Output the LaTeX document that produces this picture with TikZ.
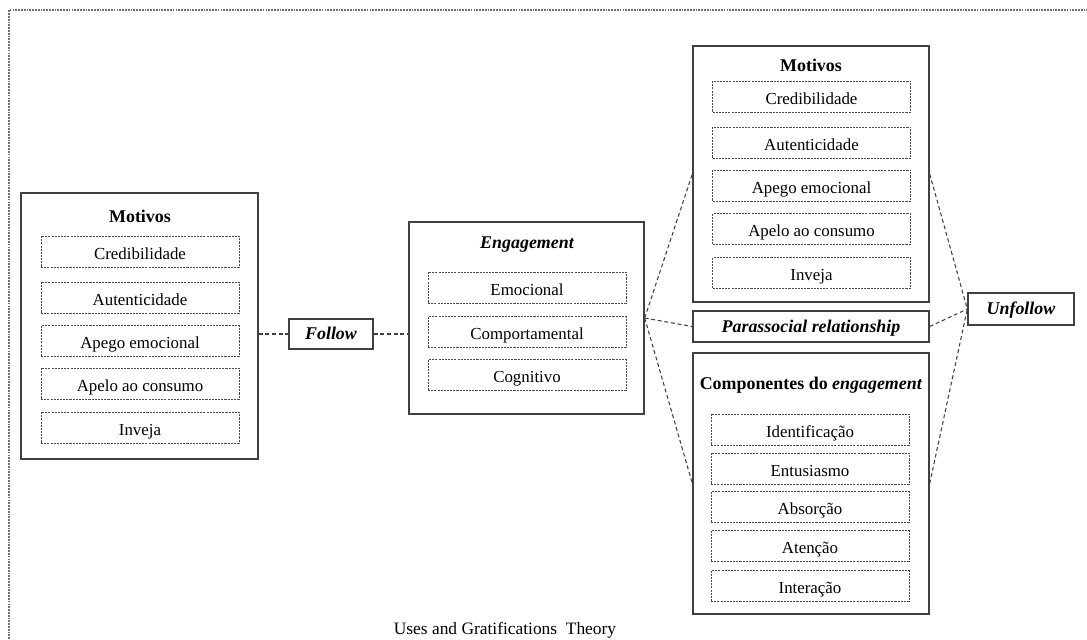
\documentclass[tikz,border=0pt]{standalone}
\usepackage{fontspec}
\setmainfont{Liberation Serif}
\usetikzlibrary{positioning}

\tikzset{
  caixa/.style={draw=black!75, line width=0.8pt, inner sep=0pt, minimum width=4.72cm,
    text height=8.6pt, text depth=1.8pt},
  item/.style={draw=black!70, line width=0.45pt, dash pattern=on 1.2pt off 0.6pt,
    inner sep=0pt, minimum width=3.96cm, minimum height=0.62cm,
    text height=10.4pt, text depth=1.5pt,
    font=\fontsize{9.6}{11}\selectfont},
  titulo/.style={inner sep=0pt, font=\fontsize{10.2}{12}\selectfont\bfseries},
  ligacao/.style={draw=black!75, line width=0.6pt, dash pattern=on 2.2pt off 1.6pt},
  moldura/.style={draw=black!55, line width=1.1pt, dash pattern=on 1pt off 0.6pt}
}

\begin{document}
\begin{tikzpicture}[x=0.02cm, y=-0.02cm]
		\useasboundingbox (0,0) rectangle (1087,639);
		% Moldura
		\draw[moldura] (9,639) -- (9,10) -- (1087,10);
		
		% Motivos (esquerda)
		\node[caixa, minimum width=4.74cm, minimum height=5.32cm] (motE) at (139.5,326) {};
		\node[titulo] (motEtit) at (140,216) {Motivos};
		\node[item] (motE1) at (140,251.5) {Credibilidade};
		\node[item] (motE2) at (140,297.5) {Autenticidade};
		\node[item] (motE3) at (140,341) {Apego emocional};
		\node[item] (motE4) at (140,383.5) {Apelo ao consumo};
		\node[item] (motE5) at (140,427.5) {Inveja};
		
		% Follow
		\node[caixa, minimum width=1.68cm, minimum height=0.6cm, font=\fontsize{10.2}{12}\selectfont\bfseries\itshape] (fol) at (331,334) {Follow};
		
		% Engagement
		\node[caixa, minimum width=4.7cm, minimum height=3.84cm] (eng) at (526.5,318) {};
		\node[titulo, font=\fontsize{10.2}{12}\selectfont\bfseries\itshape] (engtit) at (527,245) {Engagement};
		\node[item] (eng1) at (527,287.5) {Emocional};
		\node[item] (eng2) at (527,332) {Comportamental};
		\node[item] (eng3) at (527,375) {Cognitivo};
		
		% Motivos (direita)
		\node[caixa, minimum height=5.12cm] (motD) at (811,174) {};
		\node[titulo] (motDtit) at (811,65) {Motivos};
		\node[item] (motD1) at (811.5,96.5) {Credibilidade};
		\node[item] (motD2) at (811.5,142.5) {Autenticidade};
		\node[item] (motD3) at (811.5,185.5) {Apego emocional};
		\node[item] (motD4) at (811.5,229) {Apelo ao consumo};
		\node[item] (motD5) at (811.5,273) {Inveja};
		
		% Parassocial relationship
		\node[caixa, minimum height=0.62cm, font=\fontsize{10.2}{12}\selectfont\bfseries\itshape] (para) at (811,326.5) {Parassocial relationship};
		
		% Componentes do engagement
		\node[caixa, minimum height=5.22cm] (comp) at (811,483.5) {};
		\node[titulo] (comptit) at (811,385) {Componentes do \textit{engagement}};
		\node[item] (comp1) at (810,429.5) {Identificação};
		\node[item] (comp2) at (810,468.5) {Entusiasmo};
		\node[item] (comp3) at (810,507) {Absorção};
		\node[item] (comp4) at (810,546) {Atenção};
		\node[item] (comp5) at (810,586) {Interação};
		
		% Unfollow
		\node[caixa, minimum width=2.12cm, minimum height=0.64cm, font=\fontsize{10.2}{12}\selectfont\bfseries\itshape] (unf) at (1021,309) {Unfollow};
		
		% Ligações
		\draw[ligacao] (motE.east |- fol.west) -- (fol.west);
		\draw[ligacao] (fol.east) -- (fol.east -| eng.west);
		\draw[ligacao] (eng.east) -- (motD.west);
		\draw[ligacao] (eng.east) -- (para.west);
		\draw[ligacao] (eng.east) -- (comp.west);
		\draw[ligacao] (motD.east) -- (unf.west);
		\draw[ligacao] (para.east) -- (unf.west);
		\draw[ligacao] (comp.east) -- (unf.west);
		
		% Legenda
		\node[font=\fontsize{9.9}{12}\selectfont, inner sep=0pt] (leg) at (505,630) {Uses and Gratifications\ \ Theory};
	\end{tikzpicture}
\end{document}
